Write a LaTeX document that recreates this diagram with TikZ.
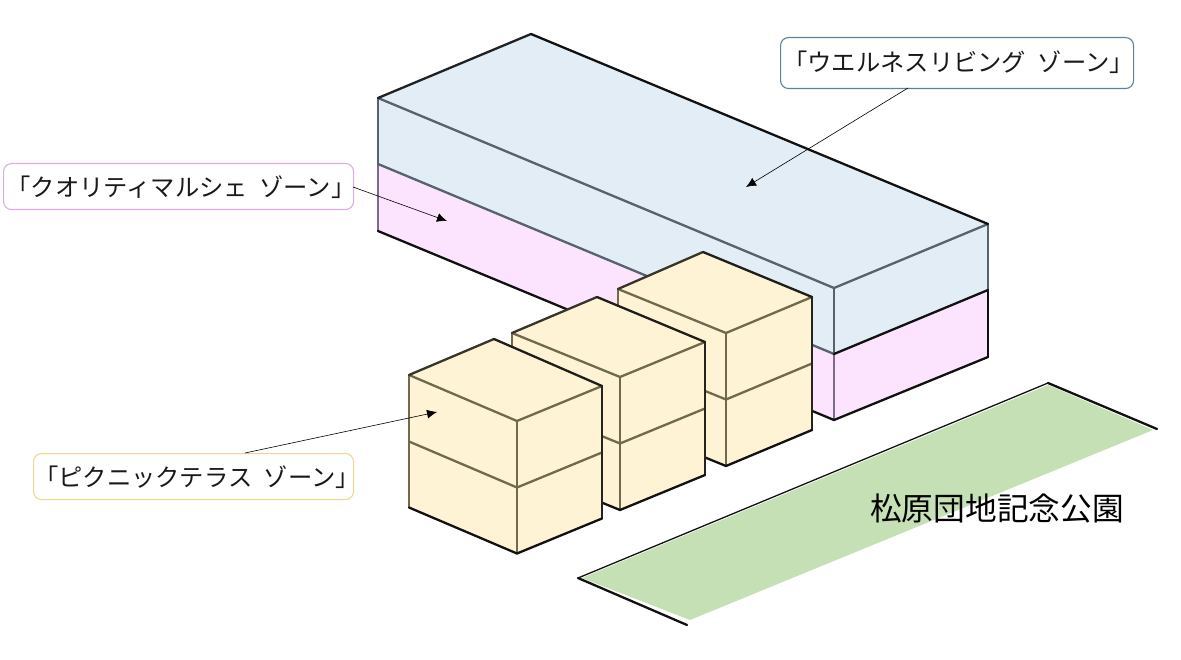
\documentclass[tikz,border=0pt]{standalone}
\usepackage{fontspec}
\setmainfont{Noto Sans CJK JP}
\usetikzlibrary{arrows.meta,calc}
\definecolor{bluef}{HTML}{E2EDF6}
\definecolor{pinkf}{HTML}{FDE4FE}
\definecolor{yelf}{HTML}{FFF3D6}
\definecolor{greenf}{HTML}{C5E0B4}
\definecolor{blueln}{HTML}{56626C}
\definecolor{pinkln}{HTML}{7D6C85}
\definecolor{yelln}{HTML}{6F6A4C}
\definecolor{darkln}{HTML}{111111}
\definecolor{bluebd}{HTML}{5E8296}
\definecolor{pinkbd}{HTML}{E4A8EA}
\definecolor{yelbd}{HTML}{EFD78C}
\tikzset{
  x=1pt,y=-1pt,
  facefill/.style={line join=round,draw=none},
  thick edge/.style={line width=2.3pt,line cap=round,line join=round},
  zonelabel/.style={rounded corners=8pt,draw,line width=1.1pt,fill=white,inner sep=0pt,anchor=north west},
  leader/.style={line width=0.6pt,draw=black,-{Latex[length=10pt,width=9pt]}},
  labeltext/.style={font=\fontsize{24.3}{24}\selectfont,text=black!90}
}
\newcommand{\cube}[9]{%
 \coordinate (#1L) at (#2,#3);
 \coordinate (#1B) at (#4,#5);
 \coordinate (#1R) at (#6,#7);
 \coordinate (#1F) at (#8,#9);
}
\newcommand{\drawbox}[3]{%
 \coordinate (#1Lm) at ($(#1L)+(0,#2)$);
 \coordinate (#1Fm) at ($(#1F)+(0,#2)$);
 \coordinate (#1Rm) at ($(#1R)+(0,#2)$);
 \coordinate (#1Lb) at ($(#1L)+(0,#3)$);
 \coordinate (#1Fb) at ($(#1F)+(0,#3)$);
 \coordinate (#1Rb) at ($(#1R)+(0,#3)$);
 \fill[yelf,facefill] (#1L)--(#1B)--(#1R)--(#1Rb)--(#1Fb)--(#1Lb)--cycle;
 \draw[thick edge,yelln] (#1L)--(#1F)--(#1R);
 \draw[thick edge,yelln] (#1Lm)--(#1Fm)--(#1Rm);
 \draw[thick edge,yelln] (#1F)--(#1Fb);
 \draw[thick edge,yelln] (#1L)--(#1Lb);
 \draw[thick edge,darkln!60!yelln] (#1L)--(#1B);
 \draw[thick edge,darkln!85!yelln] (#1B)--(#1R);
 \draw[thick edge,darkln!80!yelln] (#1R)--(#1Rb);
 \draw[thick edge,darkln] (#1Lb)--(#1Fb)--(#1Rb);
}
\begin{document}
\begin{tikzpicture}
\useasboundingbox (0,0) rectangle (1181,660);
\fill[white] (0,0) rectangle (1181,660);
% long building
\coordinate (A) at (378,98);
\coordinate (Bk) at (531,34);
\coordinate (C) at (988,224);
\coordinate (D) at (834,288);
\coordinate (Am) at (378,164);
\coordinate (Cm) at (988,290);
\coordinate (Dm) at (834,354);
\coordinate (Ab) at (378,231);
\coordinate (Cb) at (988,357);
\coordinate (Db) at (834,420);
\fill[pinkf,facefill] (Am)--(Dm)--(Cm)--(Cb)--(Db)--(Ab)--cycle;
\fill[bluef,facefill] (A)--(Bk)--(C)--(Cm)--(Dm)--(Am)--cycle;
\draw[thick edge,blueln] (A)--(D)--(C);
\draw[thick edge,blueln] (D)--(Dm);
\draw[thick edge,blueln] (A)--(Am);
\draw[thick edge,blueln] (C)--(Cm);
\draw[thick edge,pinkln] (Am)--(Ab);
\draw[thick edge,pinkln] (Dm)--(Db);
\draw[thick edge,darkln] (Cm)--(Cb);
\draw[thick edge,blueln] (Am)--(Dm);
\draw[thick edge,darkln] (Dm)--(Cm);
\draw[thick edge,darkln] (Ab)--(Db)--(Cb);
\draw[thick edge,darkln!80!blueln] (A)--(Bk);
\draw[thick edge,darkln] (Bk)--(C);
% park
\coordinate (PL) at (578,578);
\coordinate (PT) at (1048,383);
\coordinate (PR) at (1157,429);
\coordinate (PB) at (687,625);
\coordinate (GL) at (582,578);
\coordinate (GT) at (1048,385);
\coordinate (GR) at (1153,430);
\coordinate (GB) at (690,620);
\fill[greenf,facefill] (GL)--(GT)--(GR)--(GB)--cycle;
\draw[line width=1.3pt,darkln,line cap=round] (PL)--(PT);
\draw[thick edge,darkln] (PT)--(PR);
\draw[thick edge,darkln] (PL)--(PB);
% cubes, back to front
\cube{c}{618}{289}{703}{252}{812}{297}{726}{333}
\drawbox{c}{66.5}{133}
\cube{b}{512}{333}{597}{297}{705}{342}{620}{377}
\drawbox{b}{66.5}{133}
\cube{a}{409}{375}{494}{339}{602}{386}{517}{421}
\drawbox{a}{66.5}{132.5}
% labels
\node[zonelabel,draw=bluebd,minimum width=353pt,minimum height=51pt] (wellness) at (780,37) {};
\node[labeltext,anchor=center] (wellnesstext) at (958.5,62.5) {「ウエルネスリビング\hspace{6pt} ゾーン」};
\node[zonelabel,draw=pinkbd,minimum width=350pt,minimum height=46pt] (quality) at (3,163) {};
\node[labeltext,anchor=center] (qualitytext) at (181,187) {「クオリティマルシェ\hspace{6pt} ゾーン」};
\node[zonelabel,draw=yelbd,minimum width=320pt,minimum height=46pt] (picnic) at (33,453) {};
\node[labeltext,anchor=center] (picnictext) at (197,477) {「ピクニックテラス\hspace{6pt} ゾーン」};
\node[font=\fontsize{31.7}{32}\selectfont,text=black] (park) at (997,509) {松原団地記念公園};
% leaders
\coordinate (wellnessend) at (746,187);
\coordinate (qualityend) at (447,221);
\coordinate (picnicend) at (437,412);
\coordinate (wellnessstart) at (908,88);
\coordinate (qualitystart) at (353,187);
\coordinate (picnicstart) at (245,453);
\draw[leader] (wellnessstart)--(wellnessend);
\draw[leader] (qualitystart)--(qualityend);
\draw[leader] (picnicstart)--(picnicend);
\end{tikzpicture}
\end{document}
